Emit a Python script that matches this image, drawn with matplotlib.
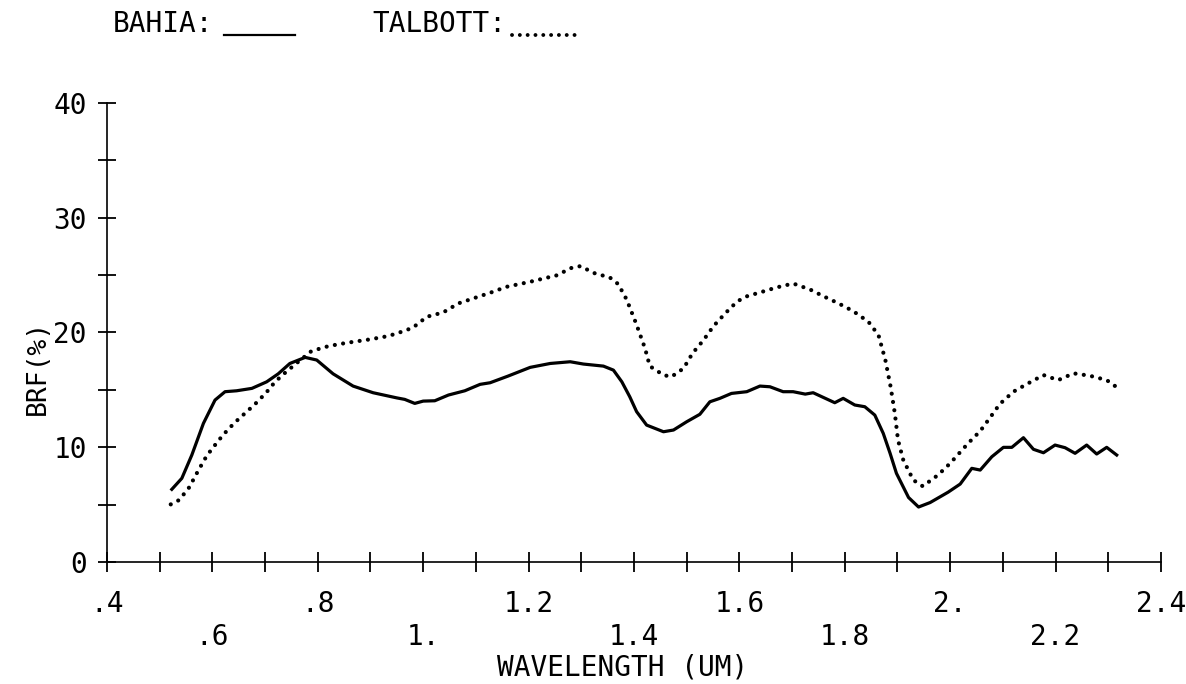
import matplotlib
matplotlib.use('Agg')
import matplotlib.pyplot as plt
from matplotlib.lines import Line2D
import numpy as np

# BAHIA (linha continua)
bahia_wl = [0.523, 0.542, 0.561, 0.583, 0.605, 0.624, 0.646, 0.675, 0.703, 0.725,
            0.747, 0.776, 0.798, 0.829, 0.867, 0.905, 0.950, 0.965, 0.984, 1.000,
            1.022, 1.048, 1.079, 1.108, 1.127, 1.161, 1.203, 1.241, 1.279, 1.304,
            1.342, 1.361, 1.377, 1.392, 1.405, 1.424, 1.456, 1.475, 1.500, 1.525,
            1.544, 1.563, 1.585, 1.614, 1.639, 1.658, 1.683, 1.702, 1.725, 1.740,
            1.781, 1.797, 1.819, 1.838, 1.857, 1.873, 1.886, 1.898, 1.921, 1.940,
            1.962, 1.996, 2.019, 2.041, 2.057, 2.079, 2.101, 2.117, 2.139, 2.158,
            2.177, 2.199, 2.218, 2.237, 2.259, 2.278, 2.297, 2.316]
bahia_brf = [6.33, 7.29, 9.32, 12.08, 14.11, 14.84, 14.92, 15.13, 15.70, 16.40,
             17.30, 17.83, 17.60, 16.40, 15.33, 14.75, 14.30, 14.17, 13.82, 14.02,
             14.05, 14.55, 14.92, 15.48, 15.62, 16.20, 16.96, 17.30, 17.45, 17.25,
             17.07, 16.72, 15.70, 14.40, 13.10, 11.93, 11.35, 11.50, 12.22, 12.87,
             13.96, 14.26, 14.69, 14.84, 15.33, 15.27, 14.84, 14.84, 14.63, 14.75,
             13.88, 14.26, 13.68, 13.53, 12.80, 11.21, 9.47, 7.73, 5.62, 4.79,
             5.18, 6.08, 6.79, 8.16, 8.01, 9.17, 9.99, 9.99, 10.83, 9.82,
             9.52, 10.19, 9.96, 9.47, 10.19, 9.41, 9.99, 9.32]

# TALBOTT (pontilhado)
talbott_wl = [0.521, 0.537, 0.556, 0.573, 0.589, 0.599, 0.620, 0.642, 0.665, 0.681,
              0.702, 0.719, 0.738, 0.763, 0.788, 0.821, 0.855, 0.899, 0.934, 0.965,
              0.981, 1.007, 1.038, 1.067, 1.095, 1.127, 1.158, 1.203, 1.237, 1.250,
              1.282, 1.298, 1.326, 1.354, 1.370, 1.386, 1.404, 1.421, 1.430, 1.456,
              1.471, 1.494, 1.511, 1.532, 1.551, 1.573, 1.595, 1.611, 1.639, 1.671,
              1.702, 1.734, 1.759, 1.788, 1.816, 1.845, 1.864, 1.877, 1.887, 1.895,
              1.901, 1.911, 1.930, 1.948, 1.977, 2.000, 2.034, 2.057, 2.076, 2.094,
              2.120, 2.148, 2.177, 2.205, 2.234, 2.265, 2.297, 2.313]
talbott_brf = [5.02, 5.40, 6.50, 7.95, 9.23, 9.84, 11.06, 12.13, 13.09, 13.76,
               14.75, 15.70, 16.49, 17.45, 18.38, 18.82, 19.10, 19.40, 19.69, 20.15,
               20.44, 21.37, 21.75, 22.54, 22.97, 23.46, 23.98, 24.42, 24.80, 24.91,
               25.64, 25.78, 25.15, 24.80, 24.22, 22.88, 20.79, 18.61, 17.07, 16.29,
               16.14, 16.87, 18.18, 19.34, 20.56, 21.66, 22.67, 23.11, 23.49, 23.93,
               24.27, 23.75, 23.17, 22.54, 21.86, 20.93, 19.77, 17.60, 15.27, 12.95,
               10.63, 8.89, 7.14, 6.60, 7.58, 8.60, 10.34, 11.41, 12.60, 13.76,
               14.84, 15.57, 16.29, 15.85, 16.44, 16.23, 15.85, 15.33]

x_major = [0.4, 0.6, 0.8, 1.0, 1.2, 1.4, 1.6, 1.8, 2.0, 2.2, 2.4]
x_labels = ['.4', '\n.6', '.8', '\n1.', '1.2', '\n1.4', '1.6', '\n1.8', '2.', '\n2.2', '2.4']
y_major = [0, 10, 20, 30, 40]
y_labels = ['0', '10', '20', '30', '40']

plt.rcParams['font.family'] = 'DejaVu Sans Mono'

fig = plt.figure(figsize=(11.86, 6.84), dpi=100)
ax = fig.add_axes([0.0902, 0.1784, 0.8887, 0.6710])

# pontos redondos a cada ~8 px
pontilhado = (0, (0.01, 2.0))

ax.plot(bahia_wl, bahia_brf, color='black', lw=2.3, solid_joinstyle='round')
ax.plot(talbott_wl, talbott_brf, color='black', lw=3.0, linestyle=pontilhado,
        dash_capstyle='round')

ax.set_xlim(0.4, 2.4)
ax.set_ylim(0, 40)

for lado in ['top', 'right']:
    ax.spines[lado].set_visible(False)
for lado in ['left', 'bottom']:
    ax.spines[lado].set_linewidth(1.2)

ax.set_xticks(x_major)
ax.set_xticklabels(x_labels, fontsize=20, linespacing=1.2, va='top')
ax.set_xticks(np.arange(0.5, 2.4, 0.2), minor=True)
ax.set_yticks(y_major)
ax.set_yticklabels(y_labels, fontsize=20)
ax.set_yticks([5, 15, 25, 35], minor=True)

ax.tick_params(axis='x', which='both', direction='inout', length=15, width=1.3, pad=13)
ax.tick_params(axis='y', which='both', direction='inout', length=13, width=1.3, pad=8)

ax.set_xlabel('WAVELENGTH (UM)', fontsize=20, va='center')
ax.xaxis.set_label_coords(0.489, -0.231)
ax.set_ylabel('BRF(%)', fontsize=19, va='center')
ax.yaxis.set_label_coords(-0.0655, 0.425)

# legenda no topo
fig.text(113 / 1186, 1 - 24 / 684, 'BAHIA:', fontsize=20, va='center', ha='left')
fig.add_artist(Line2D([224 / 1186, 295 / 1186], [1 - 35 / 684, 1 - 35 / 684],
                      color='black', lw=1.6, transform=fig.transFigure))
fig.text(372 / 1186, 1 - 24 / 684, 'TALBOTT:', fontsize=20, va='center', ha='left')
fig.add_artist(Line2D([512 / 1186, 582 / 1186], [1 - 35 / 684, 1 - 35 / 684],
                      color='black', lw=2.8, linestyle=pontilhado,
                      dash_capstyle='round', transform=fig.transFigure))

plt.savefig('out.png', dpi=100)
